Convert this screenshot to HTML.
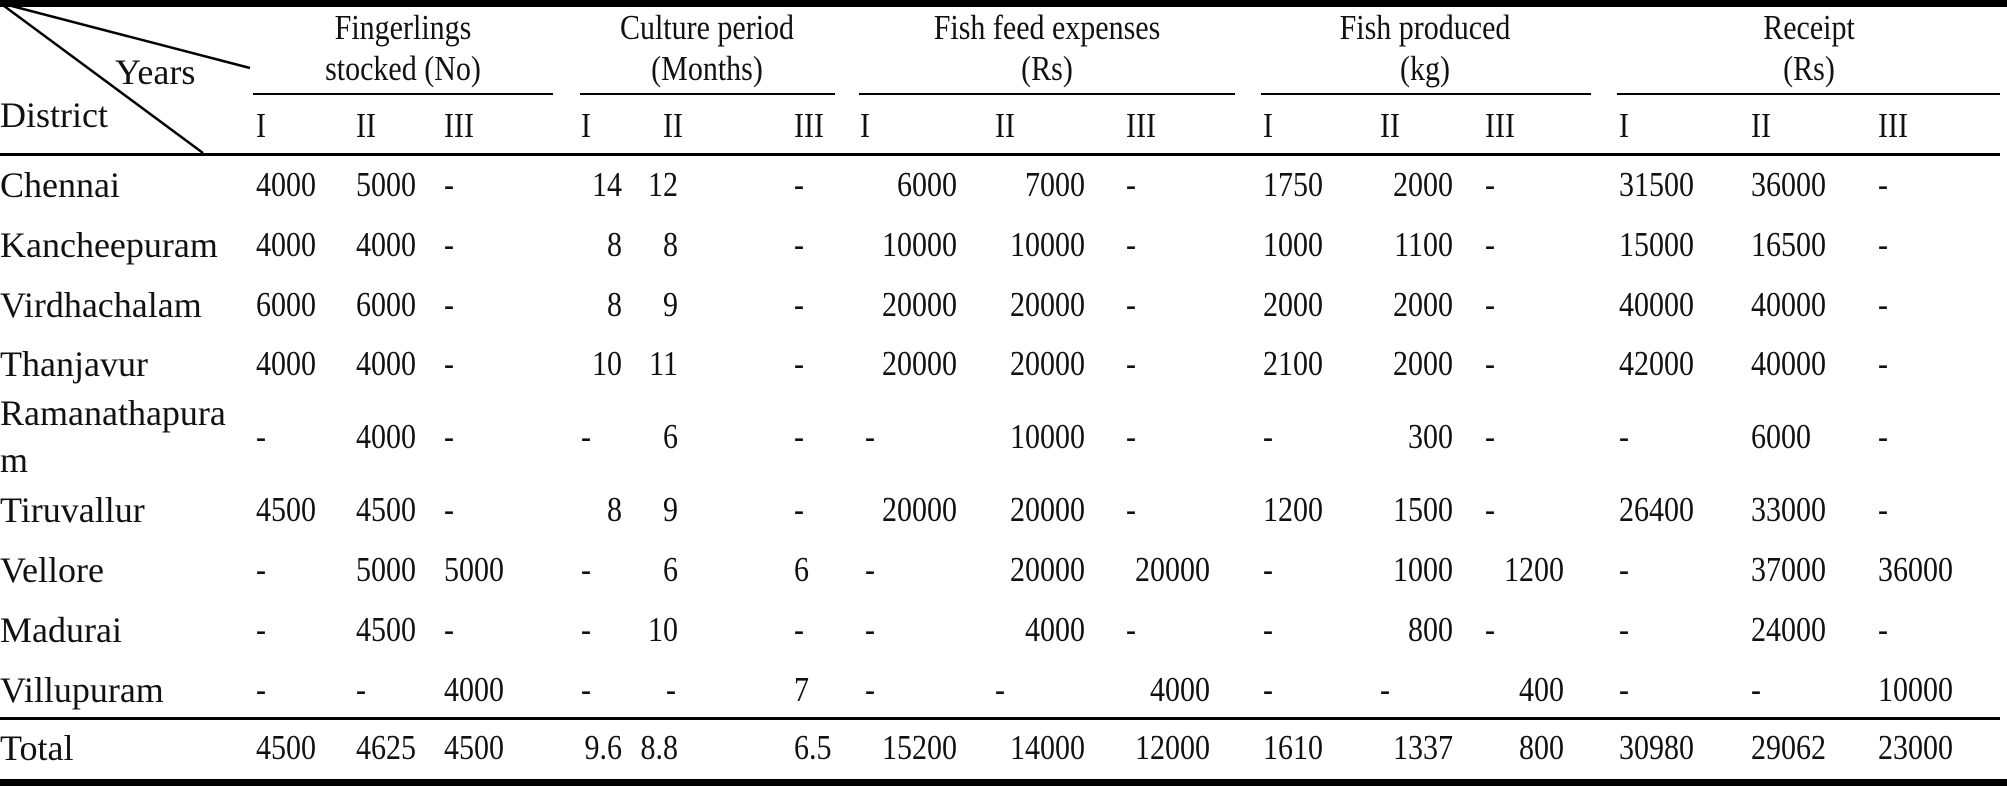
<!DOCTYPE html>
<html><head><meta charset="utf-8"><style>
html,body{margin:0;padding:0;background:#fff;}
body{width:2007px;height:787px;position:relative;overflow:hidden;font-family:"Liberation Serif","Times New Roman",serif;font-size:35px;color:#111;}
div{position:absolute;line-height:30px;white-space:nowrap;transform:scaleX(.857);transform-origin:0 50%;}
.r{width:200px;text-align:right;transform-origin:100% 50%;}
.c{width:400px;text-align:center;transform-origin:50% 50%;}
.n{transform:none;font-size:36px;}
.hl{background:#000;height:2px;transform:none;}
</style></head><body>
<div class="hl" style="left:0;top:0;width:2007px;height:7px"></div>
<div class="hl" style="left:0;top:779px;width:2007px;height:7px"></div>
<div class="hl" style="left:0;top:153px;width:2000px;height:3px"></div>
<div class="hl" style="left:0;top:717px;width:2000px;height:3px"></div>
<div class="hl" style="left:253px;top:93px;width:300px"></div>
<div class="hl" style="left:580px;top:93px;width:255px"></div>
<div class="hl" style="left:859px;top:93px;width:376px"></div>
<div class="hl" style="left:1261px;top:93px;width:330px"></div>
<div class="hl" style="left:1617px;top:93px;width:383px"></div>
<svg style="position:absolute;left:0;top:0" width="300" height="160"><line x1="0" y1="3" x2="250" y2="68" stroke="#000" stroke-width="2.5"/><line x1="0" y1="3" x2="203" y2="153" stroke="#000" stroke-width="2.5"/></svg>
<div class="n" style="left:115px;top:57px">Years</div>
<div class="n" style="left:0;top:100px">District</div>
<div class="c" style="left:203px;top:13px">Fingerlings</div><div class="c" style="left:203px;top:54px">stocked (No)</div>
<div class="c" style="left:507px;top:13px">Culture period</div><div class="c" style="left:507px;top:54px">(Months)</div>
<div class="c" style="left:847px;top:13px">Fish feed expenses</div><div class="c" style="left:847px;top:54px">(Rs)</div>
<div class="c" style="left:1225px;top:13px">Fish produced</div><div class="c" style="left:1225px;top:54px">(kg)</div>
<div class="c" style="left:1609px;top:13px">Receipt</div><div class="c" style="left:1609px;top:54px">(Rs)</div>
<div style="left:256px;top:111px">I</div><div style="left:356px;top:111px">II</div><div style="left:444px;top:111px">III</div>
<div style="left:581px;top:111px">I</div><div style="left:663px;top:111px">II</div><div style="left:794px;top:111px">III</div>
<div style="left:860px;top:111px">I</div><div style="left:995px;top:111px">II</div><div style="left:1126px;top:111px">III</div>
<div style="left:1263px;top:111px">I</div><div style="left:1380px;top:111px">II</div><div style="left:1485px;top:111px">III</div>
<div style="left:1619px;top:111px">I</div><div style="left:1751px;top:111px">II</div><div style="left:1878px;top:111px">III</div>

<div class="n" style="left:0;top:170px">Chennai</div>
<div style="left:256px;top:170px">4000</div><div style="left:356px;top:170px">5000</div><div style="left:444px;top:170px">-</div>
<div class="r" style="left:422px;top:170px">14</div><div class="r" style="left:478px;top:170px">12</div><div style="left:794px;top:170px">-</div>
<div class="r" style="left:757px;top:170px">6000</div><div class="r" style="left:885px;top:170px">7000</div><div style="left:1126px;top:170px">-</div>
<div style="left:1263px;top:170px">1750</div><div class="r" style="left:1253px;top:170px">2000</div><div style="left:1485px;top:170px">-</div>
<div style="left:1619px;top:170px">31500</div><div style="left:1751px;top:170px">36000</div><div style="left:1878px;top:170px">-</div>

<div class="n" style="left:0;top:230px">Kancheepuram</div>
<div style="left:256px;top:230px">4000</div><div style="left:356px;top:230px">4000</div><div style="left:444px;top:230px">-</div>
<div class="r" style="left:422px;top:230px">8</div><div class="r" style="left:478px;top:230px">8</div><div style="left:794px;top:230px">-</div>
<div class="r" style="left:757px;top:230px">10000</div><div class="r" style="left:885px;top:230px">10000</div><div style="left:1126px;top:230px">-</div>
<div style="left:1263px;top:230px">1000</div><div class="r" style="left:1253px;top:230px">1100</div><div style="left:1485px;top:230px">-</div>
<div style="left:1619px;top:230px">15000</div><div style="left:1751px;top:230px">16500</div><div style="left:1878px;top:230px">-</div>

<div class="n" style="left:0;top:290px">Virdhachalam</div>
<div style="left:256px;top:290px">6000</div><div style="left:356px;top:290px">6000</div><div style="left:444px;top:290px">-</div>
<div class="r" style="left:422px;top:290px">8</div><div class="r" style="left:478px;top:290px">9</div><div style="left:794px;top:290px">-</div>
<div class="r" style="left:757px;top:290px">20000</div><div class="r" style="left:885px;top:290px">20000</div><div style="left:1126px;top:290px">-</div>
<div style="left:1263px;top:290px">2000</div><div class="r" style="left:1253px;top:290px">2000</div><div style="left:1485px;top:290px">-</div>
<div style="left:1619px;top:290px">40000</div><div style="left:1751px;top:290px">40000</div><div style="left:1878px;top:290px">-</div>

<div class="n" style="left:0;top:349px">Thanjavur</div>
<div style="left:256px;top:349px">4000</div><div style="left:356px;top:349px">4000</div><div style="left:444px;top:349px">-</div>
<div class="r" style="left:422px;top:349px">10</div><div class="r" style="left:478px;top:349px">11</div><div style="left:794px;top:349px">-</div>
<div class="r" style="left:757px;top:349px">20000</div><div class="r" style="left:885px;top:349px">20000</div><div style="left:1126px;top:349px">-</div>
<div style="left:1263px;top:349px">2100</div><div class="r" style="left:1253px;top:349px">2000</div><div style="left:1485px;top:349px">-</div>
<div style="left:1619px;top:349px">42000</div><div style="left:1751px;top:349px">40000</div><div style="left:1878px;top:349px">-</div>

<div class="n" style="left:0;top:398px">Ramanathapura</div><div class="n" style="left:0;top:445px">m</div>
<div style="left:256px;top:422px">-</div><div style="left:356px;top:422px">4000</div><div style="left:444px;top:422px">-</div>
<div style="left:581px;top:422px">-</div><div class="r" style="left:478px;top:422px">6</div><div style="left:794px;top:422px">-</div>
<div style="left:865px;top:422px">-</div><div class="r" style="left:885px;top:422px">10000</div><div style="left:1126px;top:422px">-</div>
<div style="left:1263px;top:422px">-</div><div class="r" style="left:1253px;top:422px">300</div><div style="left:1485px;top:422px">-</div>
<div style="left:1619px;top:422px">-</div><div style="left:1751px;top:422px">6000</div><div style="left:1878px;top:422px">-</div>

<div class="n" style="left:0;top:495px">Tiruvallur</div>
<div style="left:256px;top:495px">4500</div><div style="left:356px;top:495px">4500</div><div style="left:444px;top:495px">-</div>
<div class="r" style="left:422px;top:495px">8</div><div class="r" style="left:478px;top:495px">9</div><div style="left:794px;top:495px">-</div>
<div class="r" style="left:757px;top:495px">20000</div><div class="r" style="left:885px;top:495px">20000</div><div style="left:1126px;top:495px">-</div>
<div style="left:1263px;top:495px">1200</div><div class="r" style="left:1253px;top:495px">1500</div><div style="left:1485px;top:495px">-</div>
<div style="left:1619px;top:495px">26400</div><div style="left:1751px;top:495px">33000</div><div style="left:1878px;top:495px">-</div>

<div class="n" style="left:0;top:555px">Vellore</div>
<div style="left:256px;top:555px">-</div><div style="left:356px;top:555px">5000</div><div style="left:444px;top:555px">5000</div>
<div style="left:581px;top:555px">-</div><div class="r" style="left:478px;top:555px">6</div><div style="left:794px;top:555px">6</div>
<div style="left:865px;top:555px">-</div><div class="r" style="left:885px;top:555px">20000</div><div class="r" style="left:1010px;top:555px">20000</div>
<div style="left:1263px;top:555px">-</div><div class="r" style="left:1253px;top:555px">1000</div><div class="r" style="left:1364px;top:555px">1200</div>
<div style="left:1619px;top:555px">-</div><div style="left:1751px;top:555px">37000</div><div style="left:1878px;top:555px">36000</div>

<div class="n" style="left:0;top:615px">Madurai</div>
<div style="left:256px;top:615px">-</div><div style="left:356px;top:615px">4500</div><div style="left:444px;top:615px">-</div>
<div style="left:581px;top:615px">-</div><div class="r" style="left:478px;top:615px">10</div><div style="left:794px;top:615px">-</div>
<div style="left:865px;top:615px">-</div><div class="r" style="left:885px;top:615px">4000</div><div style="left:1126px;top:615px">-</div>
<div style="left:1263px;top:615px">-</div><div class="r" style="left:1253px;top:615px">800</div><div style="left:1485px;top:615px">-</div>
<div style="left:1619px;top:615px">-</div><div style="left:1751px;top:615px">24000</div><div style="left:1878px;top:615px">-</div>

<div class="n" style="left:0;top:675px">Villupuram</div>
<div style="left:256px;top:675px">-</div><div style="left:356px;top:675px">-</div><div style="left:444px;top:675px">4000</div>
<div style="left:581px;top:675px">-</div><div style="left:666px;top:675px">-</div><div style="left:794px;top:675px">7</div>
<div style="left:865px;top:675px">-</div><div style="left:995px;top:675px">-</div><div class="r" style="left:1010px;top:675px">4000</div>
<div style="left:1263px;top:675px">-</div><div style="left:1380px;top:675px">-</div><div class="r" style="left:1364px;top:675px">400</div>
<div style="left:1619px;top:675px">-</div><div style="left:1751px;top:675px">-</div><div style="left:1878px;top:675px">10000</div>

<div class="n" style="left:0;top:733px">Total</div>
<div style="left:256px;top:733px">4500</div><div style="left:356px;top:733px">4625</div><div style="left:444px;top:733px">4500</div>
<div class="r" style="left:422px;top:733px">9.6</div><div class="r" style="left:478px;top:733px">8.8</div><div style="left:794px;top:733px">6.5</div>
<div class="r" style="left:757px;top:733px">15200</div><div class="r" style="left:885px;top:733px">14000</div><div class="r" style="left:1010px;top:733px">12000</div>
<div style="left:1263px;top:733px">1610</div><div class="r" style="left:1253px;top:733px">1337</div><div class="r" style="left:1364px;top:733px">800</div>
<div style="left:1619px;top:733px">30980</div><div style="left:1751px;top:733px">29062</div><div style="left:1878px;top:733px">23000</div>
</body></html>
